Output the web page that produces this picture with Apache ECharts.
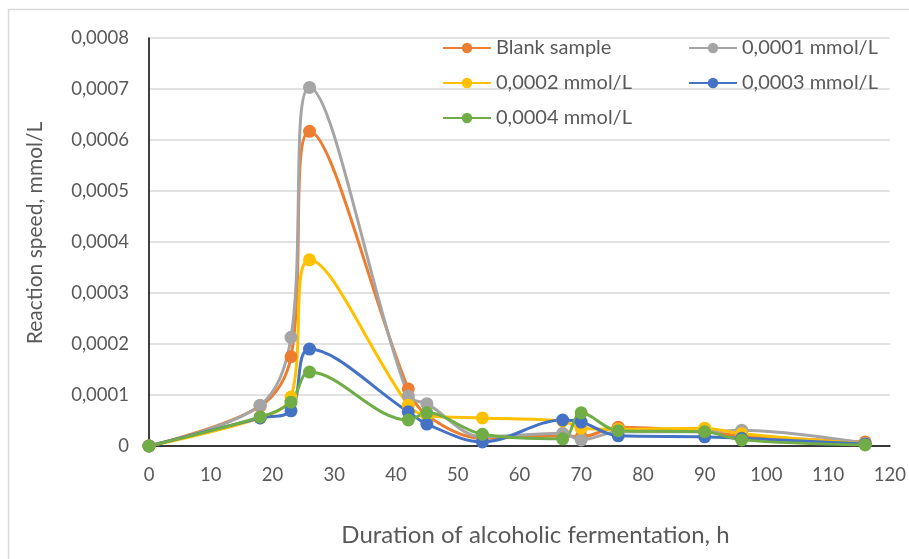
<!DOCTYPE html>
<html>
<head>
<meta charset="utf-8">
<script src="https://cdn.jsdelivr.net/npm/echarts@6/dist/echarts.min.js"></script>
<style>
html,body{margin:0;padding:0;background:#fff;}
#chart{width:909px;height:559px;}
</style>
</head>
<body>
<div id="chart"></div>
<script>
const hours = [0, 18, 23, 26, 42, 45, 54, 67, 70, 76, 90, 96, 116];
const seriesNames = ['Blank sample', '0,0001 mmol/L', '0,0002 mmol/L', '0,0003 mmol/L', '0,0004 mmol/L'];
const blankSample = [0, 0.000078, 0.000175, 0.000617, 0.000112, 0.000060, 0.000015, 0.000020, 0.000018, 0.000037, 0.000028, 0.000020, 0.000008];
const conc0001 = [0, 0.000080, 0.000213, 0.000703, 0.000098, 0.000083, 0.000018, 0.000025, 0.000012, 0.000028, 0.000028, 0.000031, 0.000005];
const conc0002 = [0, 0.000055, 0.000096, 0.000365, 0.000080, 0.000060, 0.000055, 0.000049, 0.000035, 0.000033, 0.000035, 0.000024, 0.000004];
const conc0003 = [0, 0.000055, 0.000069, 0.000190, 0.000067, 0.000043, 0.000008, 0.000051, 0.000047, 0.000020, 0.000018, 0.000015, 0.000004];
const conc0004 = [0, 0.000057, 0.000086, 0.000145, 0.000051, 0.000065, 0.000023, 0.000014, 0.000065, 0.000030, 0.000028, 0.000012, 0.000002];
const colors = ['#ED7D31', '#A5A5A5', '#FFC000', '#4472C4', '#70AD47'];
const xTitle = 'Duration of alcoholic fermentation, h';
const yTitle = 'Reaction speed, mmol/L';

const values = [blankSample, conc0001, conc0002, conc0003, conc0004];
const font = 'Lato, "Open Sans", sans-serif';

const chart = echarts.init(document.getElementById('chart'), null, {renderer: 'canvas'});
chart.setOption({
  animation: false,
  backgroundColor: '#fff',
  color: colors,
  textStyle: {fontFamily: font},
  graphic: [{
    type: 'rect', silent: true, z: -10,
    shape: {x: 8.5, y: 9.5, width: 1000, height: 1000},
    style: {fill: '#fff', stroke: '#D9D9D9', lineWidth: 1.5}
  }],
  grid: {left: 149, right: 16, top: 38, bottom: 113},
  legend: [{
    orient: 'vertical', left: 442, top: 38, padding: 0,
    itemWidth: 48, itemHeight: 13, itemGap: 15,
    data: [seriesNames[0], seriesNames[2], seriesNames[4]],
    textStyle: {fontFamily: font, fontSize: 20, color: '#595959'}
  }, {
    orient: 'vertical', left: 688, top: 38, padding: 0,
    itemWidth: 48, itemHeight: 13, itemGap: 15,
    data: [seriesNames[1], seriesNames[3]],
    textStyle: {fontFamily: font, fontSize: 20, color: '#595959'}
  }],
  xAxis: {
    type: 'value', min: 0, max: 120, interval: 10,
    name: xTitle, nameLocation: 'middle', nameGap: 77,
    nameTextStyle: {fontFamily: font, fontSize: 24, color: '#595959', padding: [0, 0, 0, 32]},
    axisLine: {lineStyle: {color: '#000', width: 1.5}},
    axisTick: {show: false},
    splitLine: {show: false},
    axisLabel: {fontFamily: font, fontSize: 18.5, color: '#595959', margin: 20}
  },
  yAxis: {
    type: 'value', min: 0, max: 0.0008, interval: 0.0001,
    name: yTitle, nameLocation: 'middle', nameGap: 103, nameRotate: 90,
    nameTextStyle: {fontFamily: font, fontSize: 21, color: '#595959', padding: [0, 0, 0, 18]},
    axisLine: {show: true, lineStyle: {color: '#000', width: 1.5}},
    axisTick: {show: false},
    splitLine: {lineStyle: {color: '#D9D9D9', width: 1.5}},
    axisLabel: {
      fontFamily: font, fontSize: 18.5, color: '#595959', margin: 20,
      formatter: v => v === 0 ? '0' : v.toFixed(4).replace('.', ',')
    }
  },
  series: values.map((arr, i) => ({
    name: seriesNames[i],
    type: 'line',
    smooth: 0.35,
    symbol: 'circle',
    symbolSize: 13,
    lineStyle: {width: 3, color: colors[i]},
    itemStyle: {color: colors[i]},
    data: hours.map((h, j) => [h, arr[j]])
  }))
});
</script>
</body>
</html>
